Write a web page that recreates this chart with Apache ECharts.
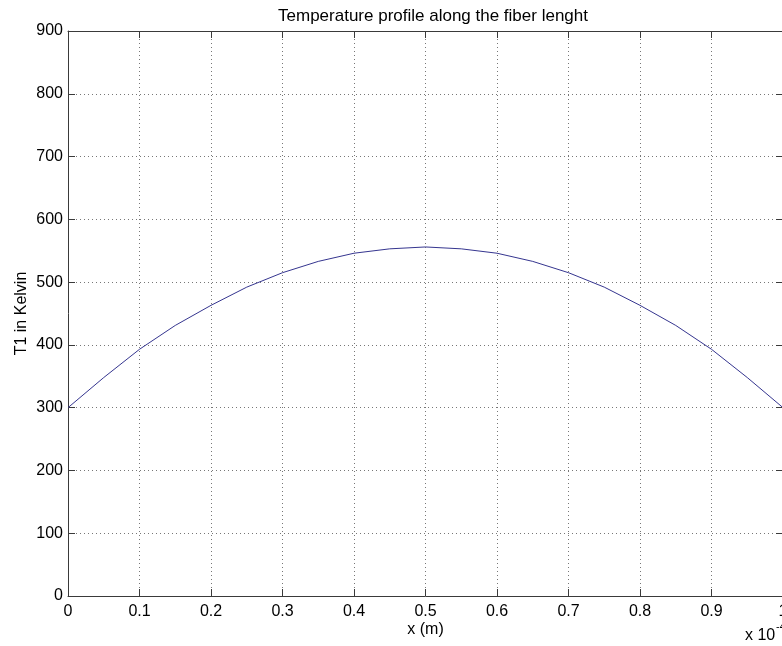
<!DOCTYPE html>
<html>
<head>
    <meta charset="utf-8">
    <script src="https://cdn.jsdelivr.net/npm/echarts@6/dist/echarts.min.js"></script>
    <style>
        html, body { margin: 0; padding: 0; background: #fff; }
        #chart { width: 782px; height: 646px; }
    </style>
</head>
<body>
<div id="chart"></div>
<script type="text/javascript">
    // x position along the fiber, in units of 1e-4 m
    var xPos = [0, 0.05, 0.1, 0.15, 0.2, 0.25, 0.3, 0.35, 0.4, 0.45, 0.5,
                0.55, 0.6, 0.65, 0.7, 0.75, 0.8, 0.85, 0.9, 0.95, 1.0];
    // T1 in Kelvin
    var temp = [300, 348, 393, 431, 463, 492, 515, 533, 546, 553, 556,
                553, 546, 533, 515, 492, 463, 431, 393, 348, 300];
    var xTicks = ['0', '0.1', '0.2', '0.3', '0.4', '0.5', '0.6', '0.7', '0.8', '0.9', '1'];

    var axisColor = '#3a3a3a';
    var font = 'Liberation Sans, Arial, sans-serif';

    var pts = xPos.map(function (x, i) { return [x, temp[i]]; });

    var chart = echarts.init(document.getElementById('chart'));

    var option = {
        backgroundColor: '#fff',
        animation: false,
        title: {
            text: 'Temperature profile along the fiber lenght',
            left: 428,
            top: 3,
            textAlign: 'center',
            textStyle: { fontFamily: font, fontSize: 17, fontWeight: 'normal', color: '#000' }
        },
        grid: { left: 68, top: 31, width: 715, height: 565, containLabel: false, outerBoundsMode: 'none' },
        xAxis: [
            {
                type: 'value', min: 0, max: 1, interval: 0.1, position: 'bottom',
                name: 'x (m)', nameLocation: 'middle', nameGap: 26, nameMoveOverlap: false,
                nameTextStyle: { fontFamily: font, fontSize: 16, color: '#000' },
                axisLine: { onZero: false, lineStyle: { color: axisColor, width: 1 } },
                axisTick: { inside: true, length: 7, lineStyle: { color: axisColor } },
                axisLabel: {
                    margin: 8, fontFamily: font, fontSize: 16, color: '#000',
                    formatter: function (v) { return xTicks[Math.round(v * 10)]; }
                },
                splitLine: { show: true, lineStyle: { color: '#777', type: [1, 3], width: 1 } }
            },
            {
                type: 'value', min: 0, max: 1, interval: 0.1, position: 'top',
                axisLine: { show: true, onZero: false, lineStyle: { color: axisColor, width: 1 } },
                axisTick: { inside: true, length: 7, lineStyle: { color: axisColor } },
                axisLabel: { show: false },
                splitLine: { show: false }
            }
        ],
        yAxis: [
            {
                type: 'value', min: 0, max: 900, interval: 100, position: 'left',
                name: 'T1 in Kelvin', nameLocation: 'middle', nameGap: 38, nameMoveOverlap: false,
                nameTextStyle: { fontFamily: font, fontSize: 16, color: '#000' },
                axisLine: { show: true, onZero: false, lineStyle: { color: axisColor, width: 1 } },
                axisTick: { show: true, inside: true, length: 7, lineStyle: { color: axisColor } },
                axisLabel: { margin: 5, fontFamily: font, fontSize: 16, color: '#000' },
                splitLine: { show: true, lineStyle: { color: '#777', type: [1, 3], width: 1 } }
            },
            {
                type: 'value', min: 0, max: 900, interval: 100, position: 'right',
                axisLine: { show: true, onZero: false, lineStyle: { color: axisColor, width: 1 } },
                axisTick: { show: true, inside: true, length: 7, lineStyle: { color: axisColor } },
                axisLabel: { show: false },
                splitLine: { show: false }
            }
        ],
        graphic: [
            {
                type: 'text', left: 745, top: 628,
                style: { text: 'x 10', fontFamily: font, fontSize: 16, fill: '#000' }
            },
            {
                type: 'text', left: 776, top: 621,
                style: { text: '-4', fontFamily: font, fontSize: 11, fill: '#000' }
            }
        ],
        series: [
            {
                type: 'line',
                data: pts,
                showSymbol: false,
                smooth: false,
                lineStyle: { color: '#35358f', width: 1 }
            }
        ]
    };

    chart.setOption(option);
</script>
</body>
</html>
